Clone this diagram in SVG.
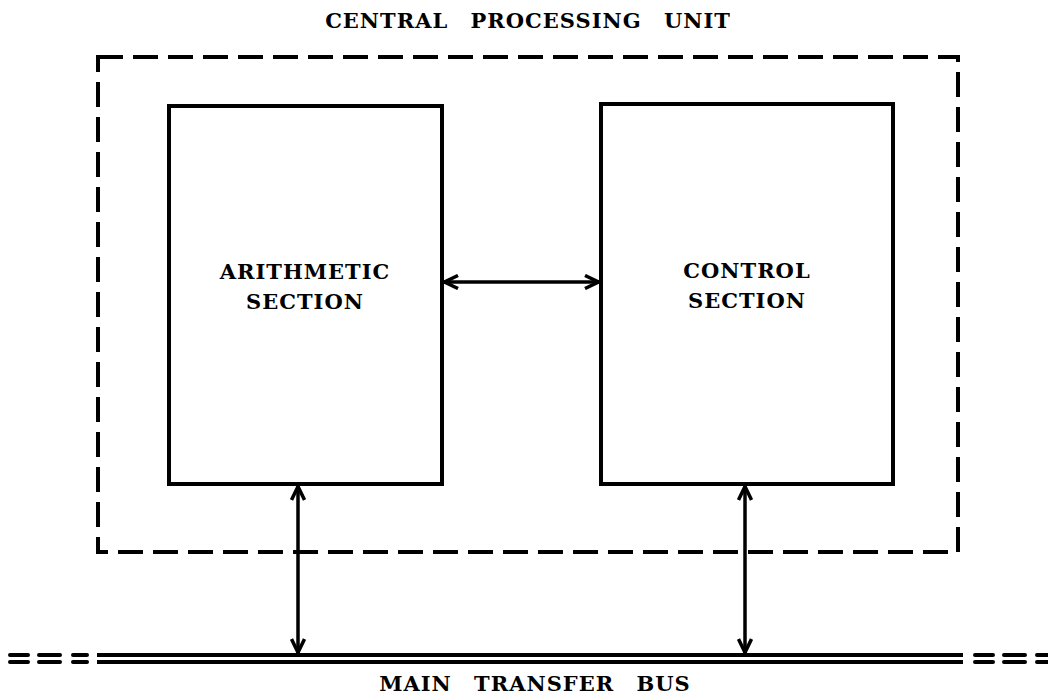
<svg xmlns="http://www.w3.org/2000/svg" width="1048" height="694" viewBox="0 0 1048 694">
<style>
.box{fill:#fff;stroke:#000;stroke-width:4}
.dash{fill:none;stroke:#000;stroke-width:4;stroke-dasharray:25 10}
.con{stroke:#000;stroke-width:3.5;fill:none}
.bus{stroke:#000;stroke-width:4;fill:none}
.busd{stroke:#000;stroke-width:4;fill:none;stroke-linecap:round}
text{font-family:"DejaVu Serif","Liberation Serif",serif;font-weight:bold;font-size:21px;fill:#000;text-anchor:middle;letter-spacing:1px;word-spacing:14px}
</style>
<defs>
<marker id="ah" viewBox="0 0 16 16" refX="15" refY="8" markerWidth="16" markerHeight="16" markerUnits="userSpaceOnUse" orient="auto-start-reverse">
<path d="M1,1.5 L14.5,8 L1,14.5" fill="none" stroke="#000" stroke-width="3.5"/>
</marker>
</defs>
<g id="cpu">
<rect class="dash" x="98" y="57" width="860" height="495"/>
<text x="528" y="28">CENTRAL PROCESSING UNIT</text>
</g>
<g id="arithmetic">
<rect class="box" x="169" y="106" width="273" height="378"/>
<text x="305" y="279">ARITHMETIC</text>
<text x="305" y="309">SECTION</text>
</g>
<g id="control">
<rect class="box" x="601" y="104" width="292" height="380"/>
<text x="747" y="278">CONTROL</text>
<text x="747" y="308">SECTION</text>
</g>
<g id="bus">
<line class="bus" x1="97" y1="655" x2="963" y2="655"/>
<line class="bus" x1="97" y1="662" x2="963" y2="662"/>
<path class="busd" d="M10,655 H28 M39,655 H60 M73,655 H87 M10,662 H28 M39,662 H60 M73,662 H87"/>
<path class="busd" d="M975,655 H993 M1004,655 H1025 M1037,655 H1050 M975,662 H993 M1004,662 H1025 M1037,662 H1050"/>
<text x="535" y="691">MAIN TRANSFER BUS</text>
</g>
<g id="connectors">
<line class="con" x1="444" y1="282" x2="599" y2="282" marker-start="url(#ah)" marker-end="url(#ah)"/>
<line class="con" x1="298" y1="486" x2="298" y2="653" marker-start="url(#ah)" marker-end="url(#ah)"/>
<line class="con" x1="745" y1="486" x2="745" y2="653" marker-start="url(#ah)" marker-end="url(#ah)"/>
</g>
</svg>
